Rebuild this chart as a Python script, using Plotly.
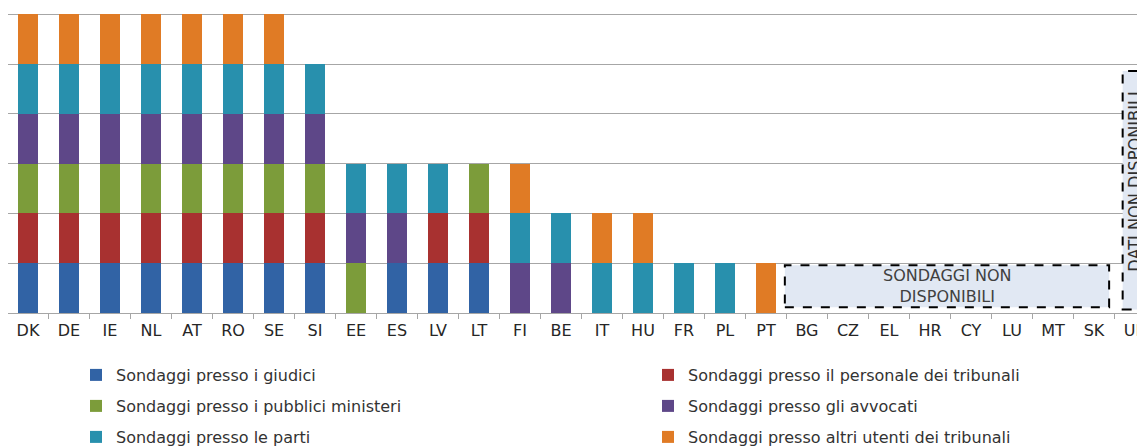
import plotly.graph_objects as go

countries = ["DK", "DE", "IE", "NL", "AT", "RO", "SE", "SI", "EE", "ES", "LV", "LT", "FI", "BE",
             "IT", "HU", "FR", "PL", "PT", "BG", "CZ", "EL", "HR", "CY", "LU", "MT", "SK", "UK"]

judges      = [1, 1, 1, 1, 1, 1, 1, 1, 0, 1, 1, 1, 0, 0, 0, 0, 0, 0, 0, 0, 0, 0, 0, 0, 0, 0, 0, 0]
staff       = [1, 1, 1, 1, 1, 1, 1, 1, 0, 0, 1, 1, 0, 0, 0, 0, 0, 0, 0, 0, 0, 0, 0, 0, 0, 0, 0, 0]
prosecutors = [1, 1, 1, 1, 1, 1, 1, 1, 1, 0, 0, 1, 0, 0, 0, 0, 0, 0, 0, 0, 0, 0, 0, 0, 0, 0, 0, 0]
lawyers     = [1, 1, 1, 1, 1, 1, 1, 1, 1, 1, 0, 0, 1, 1, 0, 0, 0, 0, 0, 0, 0, 0, 0, 0, 0, 0, 0, 0]
parties     = [1, 1, 1, 1, 1, 1, 1, 1, 1, 1, 1, 0, 1, 1, 1, 1, 1, 1, 0, 0, 0, 0, 0, 0, 0, 0, 0, 0]
others      = [1, 1, 1, 1, 1, 1, 1, 0, 0, 0, 0, 0, 1, 0, 1, 1, 0, 0, 1, 0, 0, 0, 0, 0, 0, 0, 0, 0]

series_names = [
    "Sondaggi presso i giudici",
    "Sondaggi presso il personale dei tribunali",
    "Sondaggi presso i pubblici ministeri",
    "Sondaggi presso gli avvocati",
    "Sondaggi presso le parti",
    "Sondaggi presso altri utenti dei tribunali",
]
series_values = [judges, staff, prosecutors, lawyers, parties, others]
series_colors = ["#3163a5", "#a83130", "#7c9c3a", "#5e4788", "#2890ad", "#e07b25"]

W, H = 1145, 447
legend_font = dict(family="DejaVu Sans, Arial, sans-serif", size=16, color="#333333")
col_x = [68, 640]
row_y = [367, 398, 429]

fig = go.Figure()
legends = {}
for i, (name, vals, col) in enumerate(zip(series_names, series_values, series_colors)):
    lg = "legend" if i == 0 else f"legend{i + 1}"
    fig.add_trace(go.Bar(
        x=countries, y=vals, name=name, legend=lg,
        marker=dict(color=col, line=dict(width=0)),
    ))
    legends[lg] = dict(orientation="h", xref="container", yref="container",
                       x=col_x[i % 2] / W, y=1 - row_y[i // 2] / H,
                       xanchor="left", yanchor="middle", font=legend_font,
                       bgcolor="rgba(0,0,0,0)", itemclick=False, itemdoubleclick=False)

fig.update_layout(
    width=W, height=H,
    margin=dict(l=0, r=0, t=0, b=142, autoexpand=False),
    plot_bgcolor="white", paper_bgcolor="white",
    barmode="stack", bargap=0.51,
    showlegend=True,
    xaxis=dict(
        range=[-0.488, 27.44], showgrid=False, showline=True, linecolor="#a6a6a6", linewidth=1,
        ticks="outside", tickson="boundaries", ticklen=5, tickcolor="#a6a6a6",
        tickfont=dict(family="DejaVu Sans, Arial, sans-serif", size=16, color="#262626"),
        ticklabelstandoff=3, automargin=False,
    ),
    yaxis=dict(
        range=[0, 6.127], dtick=1, showgrid=True, gridcolor="#a6a6a6", gridwidth=1,
        showticklabels=False, zeroline=False, showline=False, ticks="", automargin=False,
    ),
    **legends,
)

# "Sondaggi non disponibili" box
fig.add_shape(type="rect", xref="x", yref="y", x0=18.46, x1=26.37, y0=0.115, y1=0.96,
              fillcolor="#e1e8f3", line=dict(color="#000000", width=2, dash="dash"), layer="above")
fig.add_annotation(xref="x", yref="y", x=22.42, y=0.54, text="SONDAGGI NON<br>DISPONIBILI",
                   showarrow=False, font=dict(family="DejaVu Sans, Arial, sans-serif", size=16, color="#404040"))

# "Dati non disponibili" box
fig.add_shape(type="rect", xref="x", yref="y", x0=26.7, x1=27.7, y0=0.07, y1=4.86,
              fillcolor="#e1e8f3", line=dict(color="#000000", width=2, dash="dash"), layer="above")
fig.add_annotation(xref="x", yref="y", x=26.99, y=2.63, text="DATI NON DISPONIBILI", textangle=-90,
                   showarrow=False,
                   font=dict(family="DejaVu Sans Condensed, Liberation Sans Narrow, sans-serif", size=18, color="#303030"))

fig.write_html("out.html")
